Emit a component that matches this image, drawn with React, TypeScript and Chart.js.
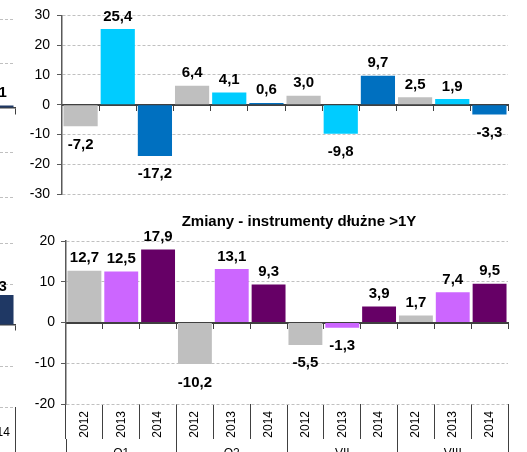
import React, { useEffect, useRef } from 'react';
import { Chart, registerables } from 'chart.js';

Chart.register(...registerables);

const FONT = '"Liberation Sans", Arial, Helvetica, sans-serif';
const AXIS = '#595959';
const SEP = '#404040';
const GRID = '#C0C0C0';

// ---- data ----
const yearLabels = ['2012', '2013', '2014', '2012', '2013', '2014', '2012', '2013', '2014', '2012', '2013', '2014'];
const periodGroups = ['Q1', 'Q2', 'VII', 'VIII'];

const topValues = [-7.2, 25.4, -17.2, 6.4, 4.1, 0.6, 3.0, -9.8, 9.7, 2.5, 1.9, -3.3];
const topColors = ['#BFBFBF', '#00CCFF', '#0070C0', '#BFBFBF', '#00CCFF', '#0070C0', '#BFBFBF', '#00CCFF', '#0070C0', '#BFBFBF', '#00CCFF', '#0070C0'];
const topMin = -30;
const topMax = 30;
const topStep = 10;

const bottomTitle = 'Zmiany - instrumenty dłużne >1Y';
const bottomValues = [12.7, 12.5, 17.9, -10.2, 13.1, 9.3, -5.5, -1.3, 3.9, 1.7, 7.4, 9.5];
const bottomColors = ['#BFBFBF', '#CC66FF', '#660066', '#BFBFBF', '#CC66FF', '#660066', '#BFBFBF', '#CC66FF', '#660066', '#BFBFBF', '#CC66FF', '#660066'];
const bottomMin = -20;
const bottomMax = 20;
const bottomStep = 10;

// neighbouring charts, only their right edge is visible
const leftTopLabels = ['', '', '', '', ''];
const leftTopValues = [null, null, null, null, 1.1];
const leftTopMin = -40;
const leftTopMax = 40;
const leftTopStep = 20;
const leftBottomLabels = ['', '', '', '', '2014'];
const leftBottomValues = [null, null, null, null, 7.3];
const leftBottomMin = -20;
const leftBottomMax = 20;
const leftBottomStep = 10;
const leftBarColor = '#1F3864';

// ---- helpers ----
const valueLabels = {
  id: 'valueLabels',
  afterDatasetsDraw(chart: any, _args: any, opts: any) {
    const ctx = chart.ctx;
    const ds = chart.data.datasets[0];
    const meta = chart.getDatasetMeta(0);
    ctx.save();
    ctx.font = `bold 15px ${FONT}`;
    ctx.fillStyle = '#000';
    ctx.textAlign = 'center';
    ctx.textBaseline = 'alphabetic';
    meta.data.forEach((el: any, i: number) => {
      const v = ds.data[i];
      if (v === null || v === undefined) return;
      const t = Number(v).toFixed(1).replace('.', ',');
      const y = v >= 0 ? el.y - opts.above : el.y + opts.below;
      ctx.fillText(t, el.x, y);
    });
    ctx.restore();
  },
};

function zeroAxis(tickLength: number, width: number) {
  return {
    type: 'category',
    position: { y: 0 },
    offset: true,
    z: 1,
    ticks: { display: false },
    grid: {
      display: true,
      drawOnChartArea: false,
      drawTicks: true,
      tickLength,
      offset: true,
      tickColor: SEP,
      tickWidth: 1,
      tickBorderDash: [],
    },
    border: { display: true, color: SEP, width },
  };
}

function valueAxis(min: number, max: number, step: number, width: number, pad: number, showLabels: boolean) {
  return {
    type: 'linear',
    position: 'left',
    min,
    max,
    afterFit: (s: any) => {
      s.width = width;
    },
    ticks: {
      display: showLabels,
      stepSize: step,
      padding: pad,
      color: '#000',
      font: { family: FONT, size: 14 },
    },
    grid: {
      color: (c: any) => (c.tick && c.tick.value === 0 ? 'rgba(0,0,0,0)' : GRID),
      lineWidth: 1,
      drawTicks: showLabels,
      tickLength: 5,
      tickColor: AXIS,
      tickWidth: 1,
      tickBorderDash: [],
    },
    border: { display: showLabels, color: AXIS, width: 1.5, dash: [3, 2] },
  };
}

// an empty right-hand axis that only reserves room, so the title centres like the original
function spacerAxis(width: number) {
  return {
    type: 'linear',
    position: 'right',
    afterFit: (s: any) => {
      s.width = width;
    },
    ticks: { display: false },
    grid: { display: false, drawTicks: false },
    border: { display: false },
  };
}

function barDataset(values: any[], colors: any) {
  return {
    data: values,
    backgroundColor: colors,
    borderWidth: 0,
    barPercentage: 0.92,
    categoryPercentage: 1,
  };
}

const basePlugins = {
  legend: { display: false },
  tooltip: { enabled: false },
};

function topConfig(): any {
  return {
    type: 'bar',
    data: { labels: yearLabels, datasets: [barDataset(topValues, topColors)] },
    plugins: [valueLabels],
    options: {
      responsive: false,
      animation: false,
      devicePixelRatio: 1,
      layout: { padding: { left: 0, right: 19, top: 14, bottom: 16 } },
      plugins: { ...basePlugins, valueLabels: { above: 8.5, below: 22.5 } },
      scales: {
        x: zeroAxis(5, 2),
        y: valueAxis(topMin, topMax, topStep, 62, 7, true),
      },
    },
  };
}

function bottomConfig(): any {
  return {
    type: 'bar',
    data: { labels: yearLabels, datasets: [barDataset(bottomValues, bottomColors)] },
    plugins: [valueLabels],
    options: {
      responsive: false,
      animation: false,
      devicePixelRatio: 1,
      layout: { padding: { left: 0, right: 0, top: 0, bottom: 0 } },
      plugins: {
        ...basePlugins,
        title: {
          display: true,
          text: bottomTitle,
          color: '#000',
          font: { family: FONT, size: 15, weight: 'bold' },
          padding: { top: 13, bottom: 10 },
        },
        valueLabels: { above: 8.5, below: 22.5 },
      },
      scales: {
        x: {
          type: 'category',
          position: 'bottom',
          offset: true,
          weight: 0,
          afterFit: (s: any) => {
            s.height = 35;
          },
          ticks: {
            minRotation: 90,
            maxRotation: 90,
            autoSkip: false,
            padding: -28,
            color: '#000',
            font: { family: FONT, size: 12 },
          },
          grid: {
            drawOnChartArea: false,
            drawTicks: true,
            tickLength: 35,
            offset: true,
            tickColor: SEP,
            tickWidth: 1,
            tickBorderDash: [],
          },
          border: { display: false },
        },
        xg: {
          type: 'category',
          labels: periodGroups,
          position: 'bottom',
          offset: true,
          weight: 1,
          afterFit: (s: any) => {
            s.height = 41;
          },
          ticks: {
            maxRotation: 0,
            autoSkip: false,
            padding: -38,
            color: '#000',
            font: { family: FONT, size: 12 },
          },
          grid: {
            drawOnChartArea: false,
            drawTicks: true,
            tickLength: 45,
            offset: true,
            tickColor: SEP,
            tickWidth: 1,
            tickBorderDash: [],
          },
          border: { display: false },
        },
        x2: zeroAxis(5, 2),
        y: valueAxis(bottomMin, bottomMax, bottomStep, 66, 6, true),
        yRight: spacerAxis(90),
      },
    },
  };
}

function leftTopConfig(): any {
  return {
    type: 'bar',
    data: { labels: leftTopLabels, datasets: [barDataset(leftTopValues, leftBarColor)] },
    plugins: [valueLabels],
    options: {
      responsive: false,
      animation: false,
      devicePixelRatio: 1,
      layout: { padding: { left: 0, right: 5, top: 19, bottom: 13 } },
      plugins: { ...basePlugins, valueLabels: { above: 9, below: 22.5 } },
      scales: {
        x: zeroAxis(6, 1.5),
        y: valueAxis(leftTopMin, leftTopMax, leftTopStep, 0, 0, false),
      },
    },
  };
}

function leftBottomConfig(): any {
  return {
    type: 'bar',
    data: { labels: leftBottomLabels, datasets: [barDataset(leftBottomValues, leftBarColor)] },
    plugins: [valueLabels],
    options: {
      responsive: false,
      animation: false,
      devicePixelRatio: 1,
      layout: { padding: { left: 0, right: 5, top: 43, bottom: 0 } },
      plugins: { ...basePlugins, valueLabels: { above: 4, below: 22.5 } },
      scales: {
        x: {
          type: 'category',
          position: 'bottom',
          offset: true,
          afterFit: (s: any) => {
            s.height = 73;
          },
          ticks: {
            maxRotation: 0,
            autoSkip: false,
            padding: -32,
            color: '#000',
            font: { family: FONT, size: 12 },
          },
          grid: {
            drawOnChartArea: false,
            drawTicks: true,
            tickLength: 50,
            offset: true,
            tickColor: SEP,
            tickWidth: 1,
            tickBorderDash: [],
          },
          border: { display: false },
        },
        x2: zeroAxis(5, 1.5),
        y: valueAxis(leftBottomMin, leftBottomMax, leftBottomStep, 0, 0, false),
      },
    },
  };
}

function ChartCanvas(props: { make: () => any; left: number; top: number; width: number; height: number }) {
  const ref = useRef<HTMLCanvasElement | null>(null);
  useEffect(() => {
    if (!ref.current) return;
    const chart = new Chart(ref.current, props.make());
    return () => {
      chart.destroy();
    };
  }, []);
  return (
    <canvas
      ref={ref}
      width={props.width}
      height={props.height}
      style={{
        position: 'absolute',
        left: props.left,
        top: props.top,
        width: props.width,
        height: props.height,
        display: 'block',
      }}
    />
  );
}

export default function App() {
  return (
    <div
      style={{
        position: 'fixed',
        left: 0,
        top: 0,
        width: 527,
        height: 452,
        overflow: 'hidden',
        background: '#ffffff',
      }}
    >
      <ChartCanvas make={leftTopConfig} left={-170} top={0} width={190} height={210} />
      <ChartCanvas make={leftBottomConfig} left={-170} top={200} width={190} height={280} />
      <ChartCanvas make={topConfig} left={0} top={0} width={527} height={210} />
      <ChartCanvas make={bottomConfig} left={0} top={200} width={598} height={280} />
    </div>
  );
}
